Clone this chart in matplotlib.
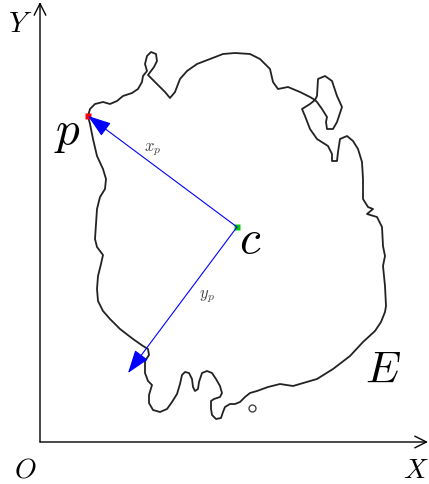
import matplotlib
matplotlib.use("Agg")
import matplotlib.pyplot as plt

plt.rcParams['mathtext.fontset'] = 'cm'

# Region outline E (image-pixel coordinates: x right, y down)
contour_x = [88, 90, 95, 103, 110, 117, 123, 132, 138, 142, 143, 147,
             145, 147, 151, 156, 157, 154, 148, 157, 165, 170, 175, 180, 187, 197,
             210, 223, 235, 250, 260, 270, 273, 278, 288, 300, 310, 315,
             317, 318, 325, 332, 337, 342, 337, 333, 327, 326, 327, 322, 317, 315,
             310, 302, 305, 310, 317, 328, 332, 332, 337, 338, 340, 347, 353, 358,
             362, 363, 363, 368, 373, 367, 377, 382, 383, 385, 383, 385, 386, 385,
             381, 375, 363, 350, 333, 317, 300, 293, 280, 268, 257, 250, 245, 240,
             235, 230, 225, 223, 221, 216, 212, 211, 211, 214, 220, 222, 220, 216,
             212, 207, 202, 199, 198, 195, 193, 192, 189, 185, 182, 180, 177, 172,
             167, 160, 153, 149, 149, 152, 148, 145, 145, 149, 148, 143, 133, 120,
             110, 103, 98, 97, 98, 101, 103, 97, 95, 96, 97, 100, 105, 106, 103,
             97, 93, 90, 88]
contour_y = [117, 110, 105, 103, 105, 102, 97, 94, 90, 83, 77, 72,
             65, 57, 53, 55, 62, 68, 76, 85, 93, 99, 93, 80, 72, 65,
             60, 55, 54, 55, 60, 70, 83, 90, 88, 93, 98, 101,
             97, 80, 77, 82, 97, 108, 123, 130, 130, 123, 118, 110, 103, 101,
             105, 110, 117, 130, 140, 147, 155, 162, 162, 153, 140, 137, 142, 150,
             163, 180, 200, 208, 210, 215, 218, 228, 247, 257, 267, 287, 307, 313,
             323, 332, 343, 357, 370, 380, 385, 387, 385, 388, 392, 394, 398, 403,
             405, 405, 408, 413, 419, 420, 416, 410, 402, 400, 398, 394, 387, 380,
             374, 372, 374, 383, 390, 392, 388, 380, 374, 373, 376, 385, 395, 403,
             410, 413, 411, 404, 396, 386, 382, 374, 362, 356, 350, 347, 340, 330,
             320, 312, 302, 290, 277, 265, 256, 248, 240, 225, 210, 198, 190, 180, 170,
             157, 140, 125, 117]

# Key points
origin = (40, 443)
x_end = (428, 443)
y_end = (40, 3)
point_p = (88, 117)
point_c = (237, 228)
yp_tip = (128, 374)
hole = (252, 409)

fig = plt.figure(figsize=(4.29, 4.85), dpi=100)
ax = fig.add_axes([0, 0, 1, 1])
ax.set_xlim(0, 429)
ax.set_ylim(485, 0)
ax.axis('off')

# Coordinate axes
for end in (x_end, y_end):
    ax.annotate('', xy=end, xytext=origin,
                arrowprops=dict(arrowstyle='->,head_length=0.7,head_width=0.35',
                                color='black', lw=1.0, shrinkA=0, shrinkB=0,
                                mutation_scale=12))

# Region outline
ax.plot(contour_x, contour_y, color='#222222', lw=1.3,
        solid_joinstyle='round', solid_capstyle='round')
ax.plot([hole[0]], [hole[1]], marker='o', ms=5, mfc='white', mec='#444444', mew=1.0)

# Vectors from c
for tgt in (point_p, yp_tip):
    ax.annotate('', xy=tgt, xytext=point_c,
                arrowprops=dict(arrowstyle='-|>,head_length=1.45,head_width=0.5',
                                color='#0000ff', lw=0.8, shrinkA=0, shrinkB=0,
                                mutation_scale=10))

# Points
ax.plot([point_p[0]], [point_p[1]], marker='s', ms=4.5, color='#ff0000', mec='none')
ax.plot([point_c[0]], [point_c[1]], marker='s', ms=4.0, color='#00cc00', mec='none')

# Labels
ax.text(8, 32, r'$Y$', fontsize=21, ha='left', va='baseline')
ax.text(403, 478, r'$X$', fontsize=20, ha='left', va='baseline')
ax.text(14, 478, r'$O$', fontsize=20, ha='left', va='baseline')
ax.text(54, 144, r'$p$', fontsize=34, ha='left', va='baseline')
ax.text(239, 253, r'$c$', fontsize=34, ha='left', va='baseline')
ax.text(365, 383, r'$E$', fontsize=32, ha='left', va='baseline')
ax.text(153, 149, r'$x_p$', fontsize=12, ha='center', va='center', color='#444444')
ax.text(207, 296, r'$y_p$', fontsize=12, ha='center', va='center', color='#444444')

fig.savefig('out.png', dpi=100)
